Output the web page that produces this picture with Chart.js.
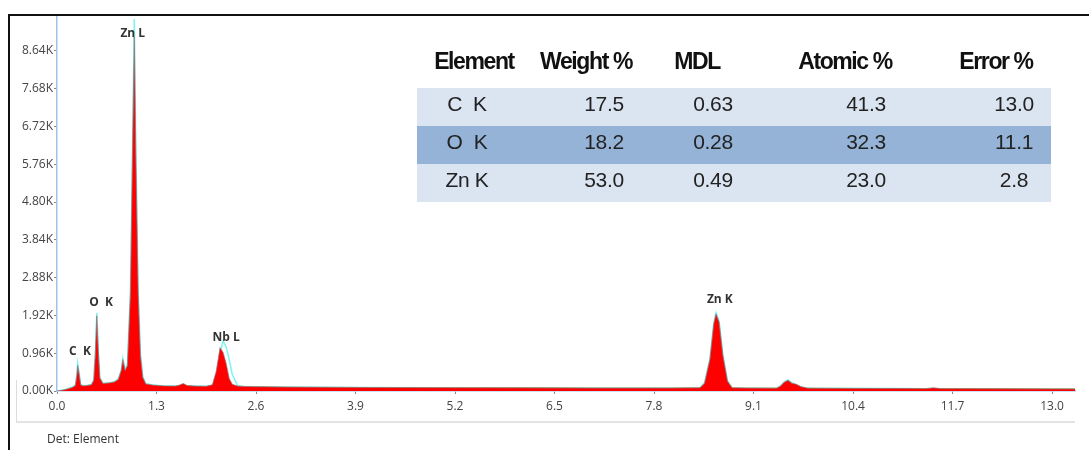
<!DOCTYPE html>
<html>
<head>
<meta charset="utf-8">
<script src="https://cdn.jsdelivr.net/npm/chart.js@4.4.1/dist/chart.umd.min.js"></script>
<style>
  html, body { margin: 0; padding: 0; background: #fff; }
  #wrap { position: relative; width: 1089px; height: 450px; overflow: hidden; }
  #chart { position: absolute; left: 0; top: 0; }
  .frame-top { position: absolute; left: 8px; right: 0; top: 14px; height: 2px; background: #111; }
  .frame-left { position: absolute; left: 8px; top: 14px; bottom: 0; width: 2px; background: #111; }
  .panel-left { position: absolute; left: 16px; top: 380px; height: 42px; width: 1px; background: #dcdcdc; }
  .panel-bottom { position: absolute; left: 16px; top: 421px; width: 1059px; height: 2px; background: #e4e4e4; }
  #det { position: absolute; left: 47px; top: 430px; font: 12px "Open Sans", sans-serif; color: #333; }
  #table { position: absolute; left: 417px; top: 44px; width: 634px; }
  .row { position: relative; height: 38px; }
  .row.head { height: 44px; }
  .row span { position: absolute; transform: translate(-50%, -50%); white-space: pre; }
  .head span { top: 17px; font: bold 23px "Liberation Sans", sans-serif; letter-spacing: -1.4px; color: #111; }
  .cell span { top: 16px; font: 21px "Liberation Sans", sans-serif; letter-spacing: -0.3px; color: #222; }
</style>
</head>
<body>
<div id="wrap">
  <canvas id="chart" width="1089" height="450"></canvas>
  <div class="frame-top"></div>
  <div class="frame-left"></div>
  <div class="panel-left"></div>
  <div class="panel-bottom"></div>
  <div id="det">Det: Element</div>
  <div id="table"></div>
</div>
<script>
// spectrum (keV vs counts)
const energy = [0.00, 0.10, 0.15, 0.20, 0.24, 0.26, 0.27, 0.29, 0.31, 0.35, 0.40, 0.45, 0.48, 0.50, 0.52, 0.54, 0.56, 0.60,
  0.65, 0.70, 0.75, 0.80, 0.84, 0.86, 0.89, 0.92, 0.96, 0.99, 1.01, 1.03, 1.06, 1.09, 1.12, 1.16, 1.25, 1.40, 1.55, 1.60,
  1.65, 1.70, 1.80, 1.95, 2.03, 2.08, 2.13, 2.17, 2.21, 2.25, 2.29, 2.36, 2.45, 2.60, 3.00, 3.50, 4.00, 5.00, 6.00, 7.00,
  8.00, 8.40, 8.46, 8.53, 8.58, 8.61, 8.65, 8.70, 8.76, 8.82, 9.00, 9.40, 9.45, 9.50, 9.55, 9.60, 9.66, 9.72, 9.81, 10.0,
  11.0, 11.35, 11.45, 11.55, 12.0, 13.0, 13.3];
const counts = [0, 30, 60, 90, 140, 400, 650, 420, 150, 130, 140, 160, 270, 900, 1910, 1000, 330, 190,
  200, 210, 230, 290, 520, 800, 520, 650, 2500, 6500, 9000, 6000, 2500, 900, 350, 180, 150, 130, 125, 150,
  190, 140, 125, 120, 160, 500, 1100, 980, 700, 320, 170, 125, 115, 110, 100, 95, 90, 85, 80, 75,
  75, 80, 200, 800, 1700, 1960, 1750, 900, 250, 80, 75, 72, 120, 220, 270, 200, 170, 110, 72, 68,
  62, 60, 80, 60, 58, 52, 50];
const fitCounts = [0, 35, 65, 100, 150, 450, 710, 460, 160, 135, 145, 165, 280, 950, 1990, 1050, 340, 195,
  205, 215, 235, 300, 540, 830, 540, 680, 2600, 6700, 9450, 6200, 2600, 950, 370, 185, 150, 130, 125, 135,
  140, 130, 125, 120, 140, 320, 950, 1275, 1120, 800, 420, 135, 115, 110, 100, 95, 90, 85, 80, 75,
  75, 80, 210, 820, 1720, 1990, 1780, 920, 260, 85, 75, 72, 125, 230, 280, 210, 150, 100, 72, 68,
  62, 60, 64, 60, 58, 52, 50];
const bgEnergy = [0.05, 0.20, 0.50, 0.70, 0.90, 1.10, 1.50, 2.50, 5.00, 9.00, 13.3];
const bgCounts = [0, 70, 150, 190, 170, 130, 105, 90, 75, 65, 50];

const peakNames = ["C  K", "O  K", "Zn L", "Nb L", "Zn K"];
const peakEnergy = [0.30, 0.575, 0.99, 2.21, 8.66];
const peakCounts = [990, 2240, 9080, 1350, 2320];

const xTicks = [0.0, 1.3, 2.6, 3.9, 5.2, 6.5, 7.8, 9.1, 10.4, 11.7, 13.0];
const yTicks = [0, 960, 1920, 2880, 3840, 4800, 5760, 6720, 7680, 8640];

// quantification table
const tableHeaders = ["Element", "Weight %", "MDL", "Atomic %", "Error %"];
const tableElements = ["C  K", "O  K", "Zn K"];
const weightPct = ["17.5", "18.2", "53.0"];
const mdl = ["0.63", "0.28", "0.49"];
const atomicPct = ["41.3", "32.3", "23.0"];
const errorPct = ["13.0", "11.1", "2.8"];

// table layout (x centres relative to the table's left edge)
const headCentres = [57, 169, 280, 428, 579];
const cellCentres = [50, 187, 296, 449, 597];
const rowColours = ["#dbe5f1", "#95b3d7", "#dbe5f1"];

function buildTable() {
  const $t = document.getElementById("table");
  let html = '<div class="row head">';
  tableHeaders.forEach((h, i) => {
    html += `<span style="left:${headCentres[i]}px">${h}</span>`;
  });
  html += "</div>";
  tableElements.forEach((el, r) => {
    const vals = [el, weightPct[r], mdl[r], atomicPct[r], errorPct[r]];
    html += `<div class="row cell" style="background:${rowColours[r]}">`;
    vals.forEach((v, i) => {
      html += `<span style="left:${cellCentres[i]}px">${v}</span>`;
    });
    html += "</div>";
  });
  $t.innerHTML = html;
}
buildTable();

const toPoints = (xs, ys) => xs.map((x, i) => ({ x: x, y: ys[i] }));

// peak labels drawn on the canvas above each peak
const peakLabelPlugin = {
  id: "peakLabels",
  afterDatasetsDraw(chart) {
    const ctx = chart.ctx;
    const xs = chart.scales.x, ys = chart.scales.y;
    ctx.save();
    ctx.font = 'bold 12px "Open Sans", sans-serif';
    ctx.fillStyle = "#333";
    ctx.textAlign = "center";
    ctx.textBaseline = "middle";
    peakNames.forEach((name, i) => {
      ctx.fillText(name, xs.getPixelForValue(peakEnergy[i]), ys.getPixelForValue(peakCounts[i]));
    });
    ctx.restore();
  }
};

const ctx = document.getElementById("chart").getContext("2d");
new Chart(ctx, {
  type: "line",
  data: {
    datasets: [
      {
        label: "Spectrum",
        data: toPoints(energy, counts),
        fill: "origin",
        backgroundColor: "#ff0000",
        borderColor: "rgba(150,120,120,0.9)",
        borderWidth: 0.8,
        pointRadius: 0,
        tension: 0
      },
      {
        label: "Background",
        data: toPoints(bgEnergy, bgCounts),
        fill: false,
        borderColor: "#c8a03c",
        borderWidth: 1.2,
        pointRadius: 0,
        cubicInterpolationMode: "monotone"
      },
      {
        label: "Fit",
        data: toPoints(energy, fitCounts),
        fill: false,
        borderColor: "#7ff3f3",
        borderWidth: 1.5,
        pointRadius: 0,
        tension: 0
      }
    ]
  },
  options: {
    responsive: false,
    animation: false,
    devicePixelRatio: 1,
    layout: { padding: { left: 0, top: 17, right: 14, bottom: 0 } },
    plugins: {
      legend: { display: false },
      tooltip: { enabled: false }
    },
    scales: {
      x: {
        type: "linear",
        min: 0,
        max: 13.3,
        afterBuildTicks: s => { s.ticks = xTicks.map(v => ({ value: v })); },
        afterFit: s => { s.height = 59; },
        border: { color: "#9cc3e8", width: 1.5 },
        grid: { drawOnChartArea: false, tickLength: 3, color: "#888" },
        ticks: {
          padding: 5,
          maxRotation: 0,
          autoSkip: false,
          color: "#444",
          font: { family: "Open Sans", size: 12 },
          callback: v => v.toFixed(1)
        }
      },
      y: {
        min: 0,
        max: 9500,
        afterBuildTicks: s => { s.ticks = yTicks.map(v => ({ value: v })); },
        afterFit: s => { s.width = 57; },
        border: { color: "#9cc3e8", width: 1.5 },
        grid: { drawOnChartArea: false, tickLength: 3, color: "#888" },
        ticks: {
          padding: 1,
          autoSkip: false,
          color: "#444",
          font: { family: "Open Sans", size: 12 },
          callback: v => (v / 1000).toFixed(2) + "K"
        }
      }
    }
  },
  plugins: [peakLabelPlugin]
});
</script>
</body>
</html>
